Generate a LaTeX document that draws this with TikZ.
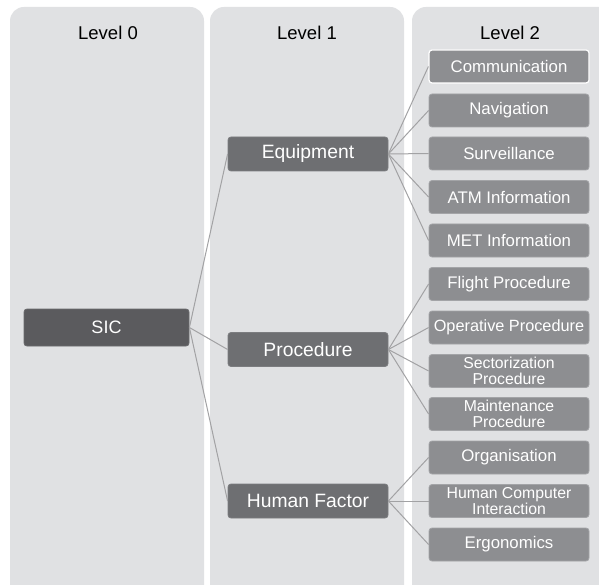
\documentclass[tikz,border=0pt]{standalone}
\usepackage{fontspec}
\setmainfont{Liberation Sans}
\begin{document}
\begin{tikzpicture}[x=1pt,y=-1pt,
  lvl/.style={font=\fontsize{18.5}{20}\selectfont,text=black},
  boxzero/.style={fill=c0,draw=c0b,line width=0.8pt,rounded corners=3pt,minimum width=165pt,minimum height=37pt,inner sep=0pt,text=white,font=\fontsize{18}{20}\selectfont},
  boxone/.style={fill=c1,draw=c1b,line width=0.8pt,rounded corners=3pt,minimum width=160pt,minimum height=34pt,inner sep=0pt,text=white,font=\fontsize{19.3}{21}\selectfont},
  boxtwo/.style={fill=c2,draw=c2b,line width=0.8pt,rounded corners=3pt,minimum width=160pt,minimum height=33pt,inner sep=0pt,text=white,align=center,font=\fontsize{16.8}{16}\selectfont},
  twoline/.style={font=\fontsize{15.8}{16}\selectfont},
  link/.style={draw=lk,line width=1pt}]
\definecolor{bgc}{HTML}{E0E1E3}
\definecolor{c0}{HTML}{5B5B5E}
\definecolor{c0b}{HTML}{6A6A6D}
\definecolor{c1}{HTML}{6E6F72}
\definecolor{c1b}{HTML}{7C7D80}
\definecolor{c2}{HTML}{8D8E91}
\definecolor{c2b}{HTML}{A3A4A7}
\definecolor{lk}{HTML}{A2A2A4}
\useasboundingbox[fill=white] (0,0) rectangle (599,585);
% columns
\fill[bgc,rounded corners=14pt] (10,7) rectangle (204,600);
\fill[bgc,rounded corners=14pt] (210,7) rectangle (404,600);
\fill[bgc,rounded corners=14pt] (412,7) rectangle (614,600);
\node[lvl] (l0) at (108,33) {Level 0};
\node[lvl] (l1) at (307,33) {Level 1};
\node[lvl] (l2) at (510,33) {Level 2};
% nodes
\node[boxzero] (sic) at (106.5,327.5) {SIC};
\node[boxone] (eq) at (308,154) {Equipment};
\node[boxone] (pr) at (308,349.5) {Procedure};
\node[boxone] (hf) at (308,501) {Human Factor};
\node[boxtwo,draw=white,line width=1.2pt] (a1) at (509,66.5) {Communication};
\node[boxtwo] (a2) at (509,110.5) {Navigation};
\node[boxtwo] (a3) at (509,153.5) {Surveillance};
\node[boxtwo] (a4) at (509,197) {ATM Information};
\node[boxtwo] (a5) at (509,240.5) {MET Information};
\node[boxtwo] (b1) at (509,284) {Flight Procedure};
\node[boxtwo,font=\fontsize{16.3}{16}\selectfont] (b2) at (509,327.5) {Operative Procedure};
\node[boxtwo,twoline] (b3) at (509,371) {Sectorization\\Procedure};
\node[boxtwo,twoline] (b4) at (509,414) {Maintenance\\Procedure};
\node[boxtwo] (c1) at (509,457.5) {Organisation};
\node[boxtwo,twoline] (c2) at (509,501) {Human Computer\\Interaction};
\node[boxtwo] (c3) at (509,544.5) {Ergonomics};
% links
\foreach \t in {eq,pr,hf} \draw[link] (sic.east) -- (\t.west);
\foreach \t in {a1,a2,a3,a4,a5} \draw[link] (eq.east) -- (\t.west);
\foreach \t in {b1,b2,b3,b4} \draw[link] (pr.east) -- (\t.west);
\foreach \t in {c1,c2,c3} \draw[link] (hf.east) -- (\t.west);
\end{tikzpicture}
\end{document}
